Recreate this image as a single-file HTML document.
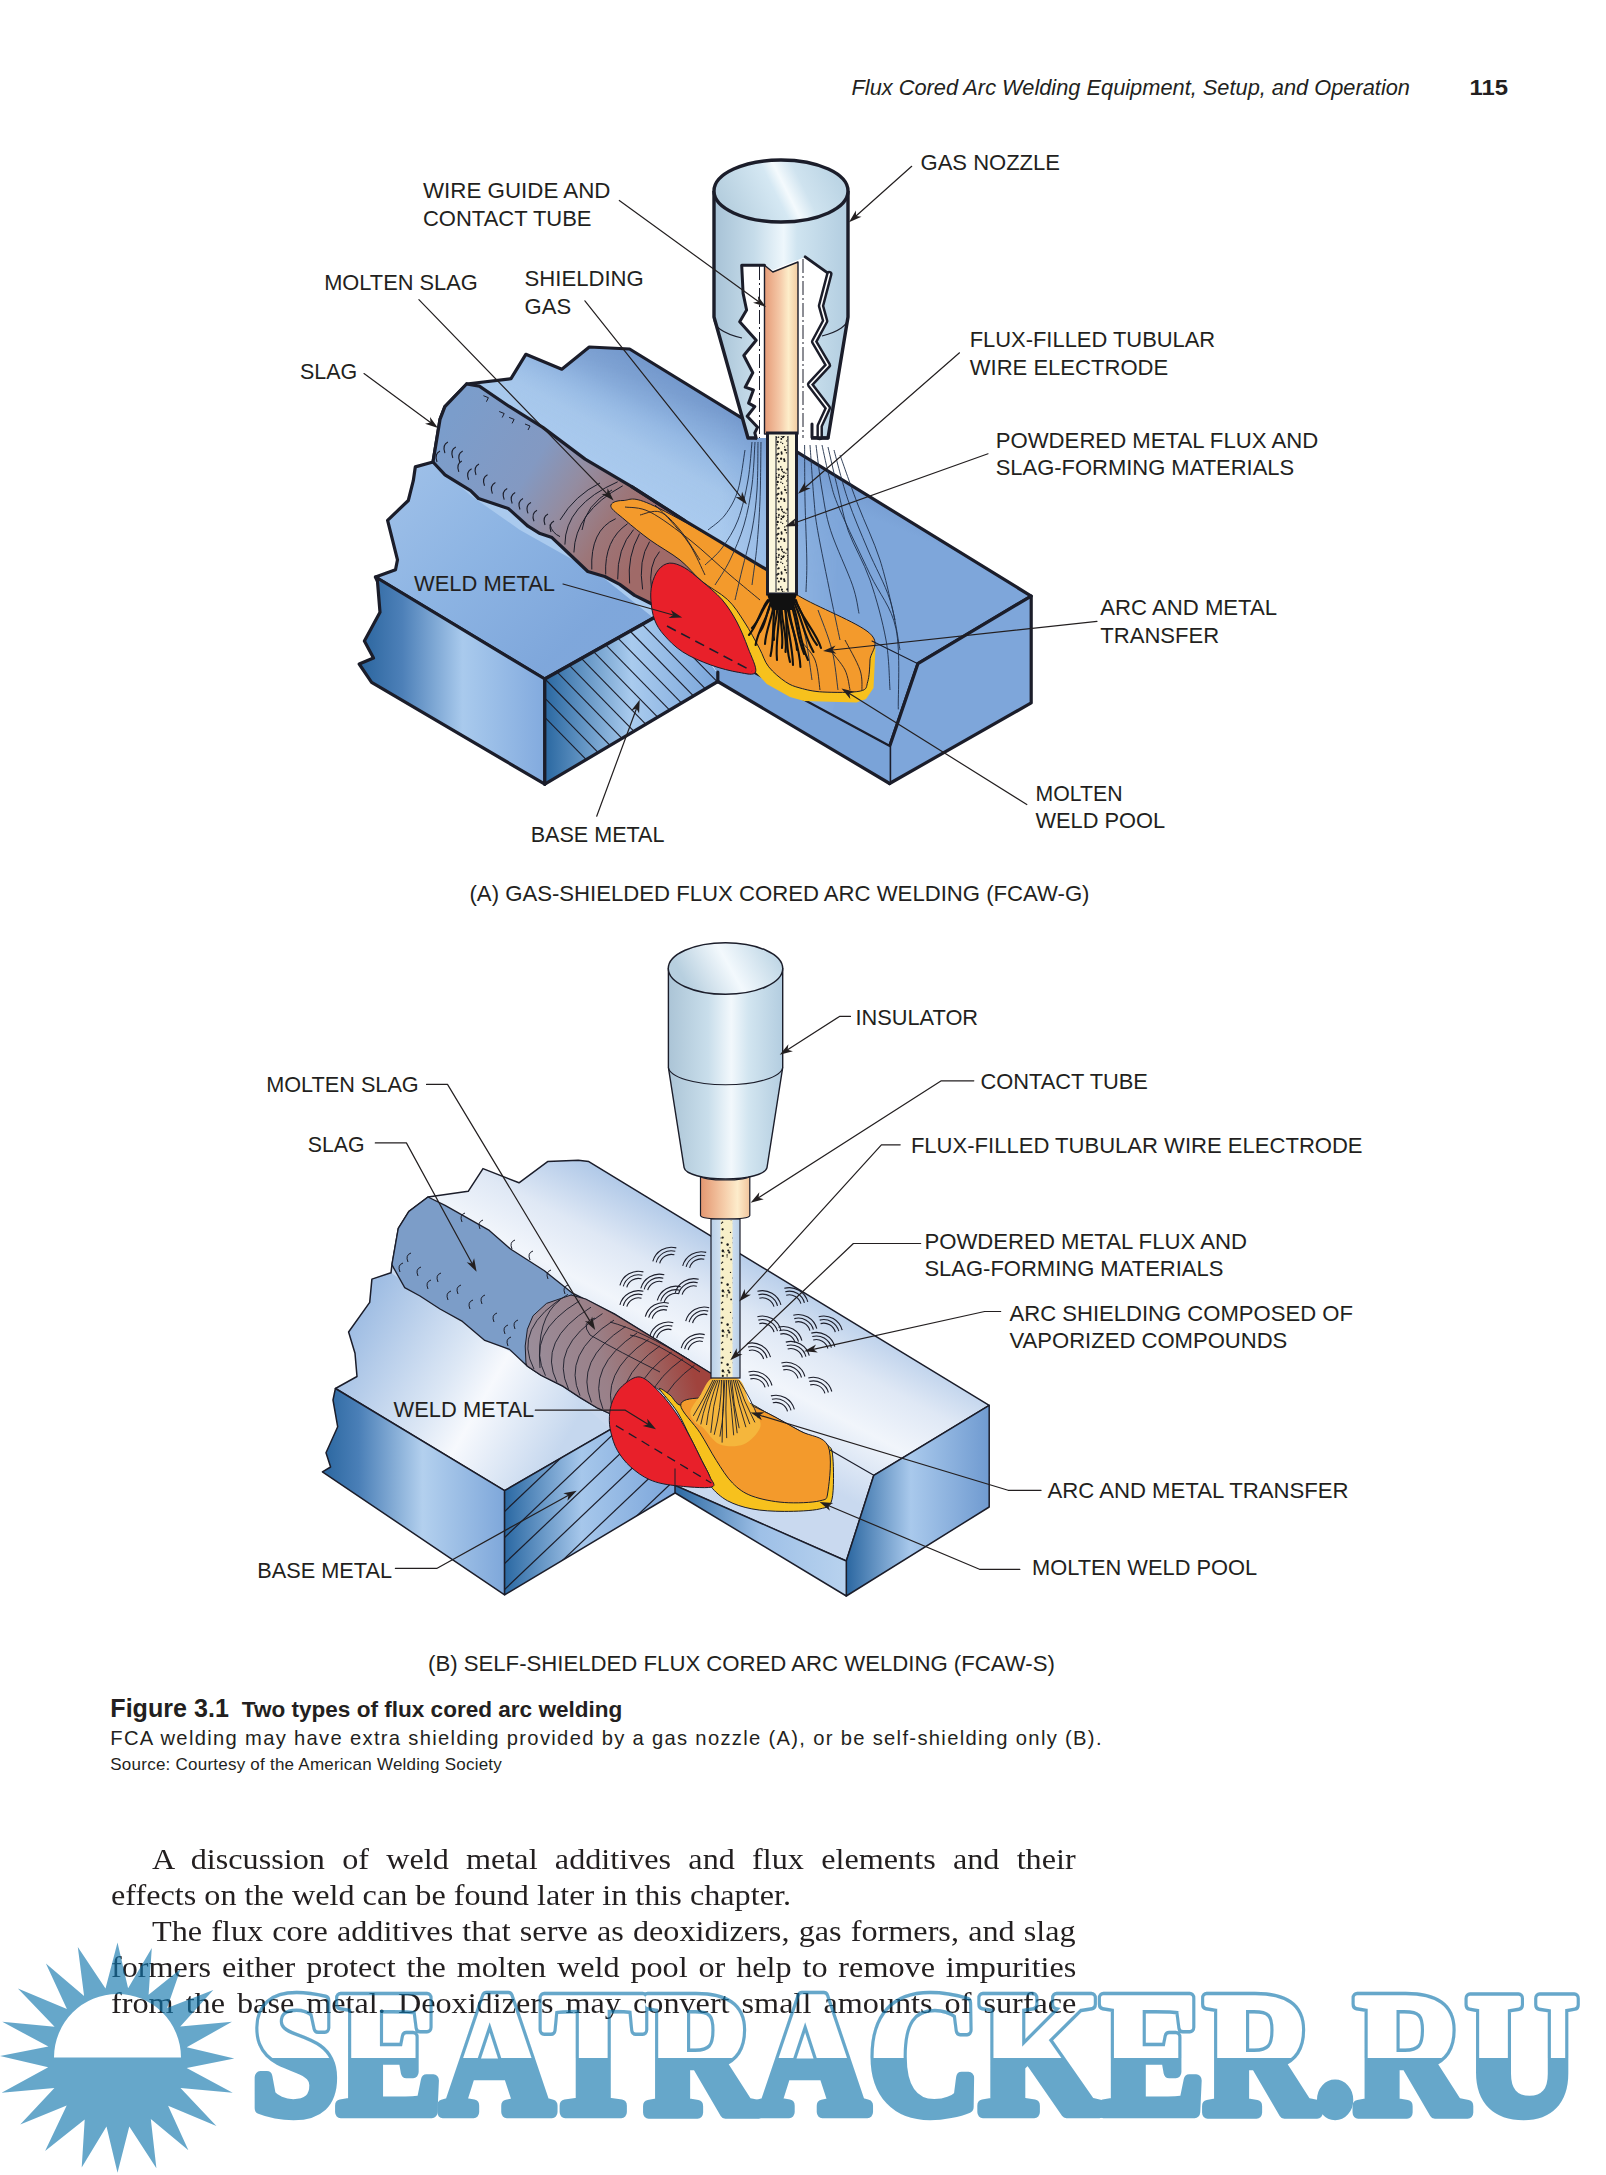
<!DOCTYPE html>
<html><head><meta charset="utf-8"><title>Flux Cored Arc Welding</title>
<style>
html,body{margin:0;padding:0;background:#fff;}
body{width:1606px;height:2175px;position:relative;overflow:hidden;}
.bl{position:absolute;font-family:"Liberation Serif",serif;font-size:28.5px;line-height:28.5px;color:#231f20;white-space:nowrap;text-align:justify;transform:scaleX(1.13);transform-origin:0 0;}
</style></head>
<body>
<svg width="1606" height="2175" style="position:absolute;left:0;top:0">
<g id="figA">
<defs>
<linearGradient id="aTop" gradientUnits="userSpaceOnUse" x1="640" y1="520" x2="690" y2="400">
  <stop offset="0" stop-color="#7ea6da"/><stop offset="0.7" stop-color="#7ea6da"/><stop offset="1" stop-color="#7196cb"/>
</linearGradient>
<linearGradient id="aBand" gradientUnits="userSpaceOnUse" x1="655" y1="500" x2="715" y2="390">
  <stop offset="0" stop-color="#aacaee" stop-opacity="1"/><stop offset="0.3" stop-color="#a9c9ec" stop-opacity="0.92"/><stop offset="0.65" stop-color="#a9c9ec" stop-opacity="0.35"/><stop offset="1" stop-color="#a9c9ec" stop-opacity="0"/>
</linearGradient>
<linearGradient id="aBandM" gradientUnits="userSpaceOnUse" x1="440" y1="0" x2="840" y2="0">
  <stop offset="0" stop-color="#fff"/><stop offset="0.7" stop-color="#fff"/><stop offset="1" stop-color="#fff" stop-opacity="0"/>
</linearGradient>
<mask id="aBandMask" maskUnits="userSpaceOnUse" x="300" y="280" width="650" height="500"><rect x="300" y="280" width="650" height="500" fill="url(#aBandM)"/></mask>
<linearGradient id="aTopL" gradientUnits="userSpaceOnUse" x1="380" y1="470" x2="560" y2="650">
  <stop offset="0" stop-color="#9fc0e8"/><stop offset="0.5" stop-color="#8ab2e2"/><stop offset="1" stop-color="#7aa3d9"/>
</linearGradient>
<linearGradient id="aFront" gradientUnits="userSpaceOnUse" x1="362" y1="0" x2="545" y2="0">
  <stop offset="0" stop-color="#2c669f"/><stop offset="0.22" stop-color="#4d80b8"/>
  <stop offset="0.55" stop-color="#a9caed"/><stop offset="1" stop-color="#82aade"/>
</linearGradient>
<linearGradient id="aHatch" gradientUnits="userSpaceOnUse" x1="545" y1="0" x2="718" y2="0">
  <stop offset="0" stop-color="#2a68a1"/><stop offset="0.5" stop-color="#a9cbee"/><stop offset="1" stop-color="#7aa5da"/>
</linearGradient>
<linearGradient id="aSlag" gradientUnits="userSpaceOnUse" x1="450" y1="420" x2="650" y2="545">
  <stop offset="0" stop-color="#7b9dcb"/><stop offset="0.4" stop-color="#8399c2"/><stop offset="0.6" stop-color="#948ca0"/>
  <stop offset="0.8" stop-color="#9c7679"/><stop offset="1" stop-color="#a06a68"/>
</linearGradient>
<linearGradient id="aNoz" gradientUnits="userSpaceOnUse" x1="714" y1="0" x2="848" y2="0">
  <stop offset="0" stop-color="#a7c2d6"/><stop offset="0.3" stop-color="#c6dcea"/>
  <stop offset="0.52" stop-color="#eef7fc"/><stop offset="0.62" stop-color="#cfe4f0"/><stop offset="1" stop-color="#b2cde0"/>
</linearGradient>
<linearGradient id="aNozTop" gradientUnits="userSpaceOnUse" x1="730" y1="215" x2="830" y2="165">
  <stop offset="0" stop-color="#b6cfdf"/><stop offset="0.45" stop-color="#d5e8f3"/>
  <stop offset="0.55" stop-color="#f4fafd"/><stop offset="0.7" stop-color="#cfe3ef"/><stop offset="1" stop-color="#bcd5e5"/>
</linearGradient>
<linearGradient id="aTube" gradientUnits="userSpaceOnUse" x1="764" y1="0" x2="798" y2="0">
  <stop offset="0" stop-color="#e59a76"/><stop offset="0.45" stop-color="#f4c7a6"/>
  <stop offset="0.72" stop-color="#fdedc9"/><stop offset="1" stop-color="#f2cba0"/>
</linearGradient>
<pattern id="dotsA" patternUnits="userSpaceOnUse" width="12" height="40"><rect width="12" height="40" fill="#fbf4d6"/><circle cx="7.3" cy="29.4" r="1.08" fill="#1a1a1a"/><circle cx="10.6" cy="29.4" r="1.15" fill="#1a1a1a"/><circle cx="1.1" cy="18.7" r="1.17" fill="#1a1a1a"/><circle cx="7.5" cy="35.6" r="0.67" fill="#1a1a1a"/><circle cx="5.7" cy="10.1" r="0.93" fill="#1a1a1a"/><circle cx="6.8" cy="1.0" r="0.73" fill="#1a1a1a"/><circle cx="3.7" cy="36.2" r="1.06" fill="#1a1a1a"/><circle cx="2.5" cy="31.6" r="0.68" fill="#1a1a1a"/><circle cx="7.2" cy="5.4" r="0.60" fill="#1a1a1a"/><circle cx="9.9" cy="8.7" r="0.73" fill="#1a1a1a"/><circle cx="11.0" cy="34.5" r="0.77" fill="#1a1a1a"/><circle cx="10.8" cy="21.5" r="1.01" fill="#1a1a1a"/><circle cx="2.9" cy="37.2" r="1.01" fill="#1a1a1a"/><circle cx="10.9" cy="35.4" r="0.78" fill="#1a1a1a"/><circle cx="4.6" cy="7.0" r="0.69" fill="#1a1a1a"/><circle cx="1.5" cy="12.3" r="0.96" fill="#1a1a1a"/><circle cx="0.8" cy="26.9" r="0.80" fill="#1a1a1a"/><circle cx="4.0" cy="32.4" r="0.89" fill="#1a1a1a"/><circle cx="4.1" cy="19.3" r="1.02" fill="#1a1a1a"/><circle cx="1.4" cy="38.5" r="0.61" fill="#1a1a1a"/><circle cx="8.6" cy="33.5" r="0.61" fill="#1a1a1a"/><circle cx="9.0" cy="14.8" r="0.95" fill="#1a1a1a"/><circle cx="0.9" cy="2.3" r="0.71" fill="#1a1a1a"/><circle cx="10.7" cy="8.2" r="1.05" fill="#1a1a1a"/><circle cx="10.5" cy="37.2" r="0.81" fill="#1a1a1a"/><circle cx="4.5" cy="21.0" r="1.07" fill="#1a1a1a"/><circle cx="1.9" cy="29.7" r="1.08" fill="#1a1a1a"/><circle cx="9.7" cy="1.9" r="1.17" fill="#1a1a1a"/><circle cx="1.7" cy="13.8" r="0.97" fill="#1a1a1a"/><circle cx="10.3" cy="13.8" r="1.15" fill="#1a1a1a"/><circle cx="6.5" cy="12.7" r="0.79" fill="#1a1a1a"/><circle cx="2.6" cy="3.5" r="0.69" fill="#1a1a1a"/><circle cx="8.0" cy="39.4" r="0.70" fill="#1a1a1a"/><circle cx="1.3" cy="39.0" r="0.92" fill="#1a1a1a"/><circle cx="5.0" cy="9.8" r="0.96" fill="#1a1a1a"/><circle cx="9.4" cy="18.3" r="0.85" fill="#1a1a1a"/><circle cx="1.4" cy="36.2" r="0.62" fill="#1a1a1a"/><circle cx="5.9" cy="33.2" r="0.68" fill="#1a1a1a"/><circle cx="8.4" cy="37.5" r="0.98" fill="#1a1a1a"/><circle cx="9.0" cy="4.7" r="0.86" fill="#1a1a1a"/></pattern>
</defs>
<polygon points="466.6,384.0 511.0,378.7 525.8,354.3 561.8,369.2 589.3,347.0 629.6,349.0 1031.2,596.1 917.9,663.7 889.6,746.5 700.0,644.0 653.6,618.0 544.8,679.0 375.5,577.0 395.5,569.7 397.5,559.8 387.6,520.3 408.3,500.5 413.3,480.7 415.3,466.9 433.0,462.0 440.0,419.4 444.9,406.6" fill="url(#aTop)" />
<clipPath id="aTopClip"><polygon points="466.6,384.0 511.0,378.7 525.8,354.3 561.8,369.2 589.3,347.0 629.6,349.0 1031.2,596.1 917.9,663.7 889.6,746.5 700.0,644.0 653.6,618.0 544.8,679.0 375.5,577.0 395.5,569.7 397.5,559.8 387.6,520.3 408.3,500.5 413.3,480.7 415.3,466.9 433.0,462.0 440.0,419.4 444.9,406.6"/></clipPath>
<g clip-path="url(#aTopClip)" mask="url(#aBandMask)"><polygon points="340,420 640,300 900,460 820,760 340,760" fill="url(#aBand)"/></g>
<polygon points="433.0,462.0 415.3,466.9 413.3,480.7 408.3,500.5 387.6,520.3 397.5,559.8 395.5,569.7 375.5,577.0 544.8,679.0 653.6,618.0 600.0,575.0 520.0,530.0 470.0,495.0" fill="url(#aTopL)" opacity="0.9"/>
<polygon points="466.6,384.0 511.0,378.7 525.8,354.3 561.8,369.2 589.3,347.0 629.6,349.0 1031.2,596.1 917.9,663.7 889.6,746.5 700.0,644.0 653.6,618.0 544.8,679.0 375.5,577.0 395.5,569.7 397.5,559.8 387.6,520.3 408.3,500.5 413.3,480.7 415.3,466.9 433.0,462.0 440.0,419.4 444.9,406.6" fill="none" stroke="#1b1d2a" stroke-width="3.2" stroke-linejoin="round" />
<polygon points="917.9,663.7 1031.2,596.1 1031.2,702.9 889.6,783.5 889.6,746.5" fill="#7ea6da" stroke="#1b1d2a" stroke-width="3.2" stroke-linejoin="round" />
<polygon points="700.0,644.0 889.6,746.5 889.6,783.5 717.8,681.5 717.8,674.0" fill="#7aa3d8" />
<polyline points="690.0,638.5 889.6,746.5" fill="none" stroke="#1b1d2a" stroke-width="1.3" stroke-linejoin="round" stroke-linecap="round" />
<polyline points="717.8,681.5 889.6,783.5" fill="none" stroke="#1b1d2a" stroke-width="3.2" stroke-linejoin="round" stroke-linecap="round" />
<polygon points="375.5,577.0 544.8,679.0 544.8,784.2 371.6,682.3 359.2,664.0 373.5,658.0 364.4,641.0 380.0,612.3 377.5,581.6" fill="url(#aFront)" stroke="#1b1d2a" stroke-width="3.2" stroke-linejoin="round" />
<clipPath id="aHatchClip"><polygon points="544.8,679.0 653.6,618.0 700.0,648.0 717.8,674.0 717.8,681.5 544.8,784.2"/></clipPath>
<polygon points="544.8,679.0 653.6,618.0 700.0,648.0 717.8,674.0 717.8,681.5 544.8,784.2" fill="url(#aHatch)" />
<g clip-path="url(#aHatchClip)"><line x1="520.6" y1="692.6" x2="660.6" y2="835.6" stroke="#1b1d2a" stroke-width="1.1"/><line x1="532.8" y1="685.8" x2="672.8" y2="828.8" stroke="#1b1d2a" stroke-width="1.1"/><line x1="545.0" y1="679.0" x2="685.0" y2="822.0" stroke="#1b1d2a" stroke-width="1.1"/><line x1="557.2" y1="672.2" x2="697.2" y2="815.2" stroke="#1b1d2a" stroke-width="1.1"/><line x1="569.4" y1="665.4" x2="709.4" y2="808.4" stroke="#1b1d2a" stroke-width="1.1"/><line x1="581.6" y1="658.7" x2="721.6" y2="801.7" stroke="#1b1d2a" stroke-width="1.1"/><line x1="593.8" y1="651.9" x2="733.8" y2="794.9" stroke="#1b1d2a" stroke-width="1.1"/><line x1="606.0" y1="645.1" x2="746.0" y2="788.1" stroke="#1b1d2a" stroke-width="1.1"/><line x1="618.2" y1="638.3" x2="758.2" y2="781.3" stroke="#1b1d2a" stroke-width="1.1"/><line x1="630.4" y1="631.5" x2="770.4" y2="774.5" stroke="#1b1d2a" stroke-width="1.1"/><line x1="642.6" y1="624.7" x2="782.6" y2="767.7" stroke="#1b1d2a" stroke-width="1.1"/><line x1="654.8" y1="618.0" x2="794.8" y2="761.0" stroke="#1b1d2a" stroke-width="1.1"/><line x1="667.0" y1="611.2" x2="807.0" y2="754.2" stroke="#1b1d2a" stroke-width="1.1"/><line x1="679.2" y1="604.4" x2="819.2" y2="747.4" stroke="#1b1d2a" stroke-width="1.1"/><line x1="691.4" y1="597.6" x2="831.4" y2="740.6" stroke="#1b1d2a" stroke-width="1.1"/><line x1="703.6" y1="590.8" x2="843.6" y2="733.8" stroke="#1b1d2a" stroke-width="1.1"/><line x1="715.8" y1="584.0" x2="855.8" y2="727.0" stroke="#1b1d2a" stroke-width="1.1"/><line x1="728.0" y1="577.3" x2="868.0" y2="720.3" stroke="#1b1d2a" stroke-width="1.1"/><line x1="740.2" y1="570.5" x2="880.2" y2="713.5" stroke="#1b1d2a" stroke-width="1.1"/><line x1="752.4" y1="563.7" x2="892.4" y2="706.7" stroke="#1b1d2a" stroke-width="1.1"/><line x1="764.6" y1="556.9" x2="904.6" y2="699.9" stroke="#1b1d2a" stroke-width="1.1"/><line x1="776.8" y1="550.1" x2="916.8" y2="693.1" stroke="#1b1d2a" stroke-width="1.1"/><line x1="789.0" y1="543.3" x2="929.0" y2="686.3" stroke="#1b1d2a" stroke-width="1.1"/><line x1="801.2" y1="536.6" x2="941.2" y2="679.6" stroke="#1b1d2a" stroke-width="1.1"/></g>
<polyline points="544.8,784.2 544.8,679.0 653.6,618.0" fill="none" stroke="#1b1d2a" stroke-width="3.2" stroke-linejoin="round" stroke-linecap="round" />
<polyline points="544.8,784.2 717.8,681.5" fill="none" stroke="#1b1d2a" stroke-width="3.2" stroke-linejoin="round" stroke-linecap="round" />
<polyline points="717.8,672.0 717.8,682.0" fill="none" stroke="#1b1d2a" stroke-width="3.2" stroke-linejoin="round" stroke-linecap="round" />
<polygon points="466.6,384.0 479.3,386.1 508.9,406.2 542.8,427.4 585.1,459.1 631.7,486.6 684.6,520.5 766.8,569.7 760.0,600.0 700.0,610.0 652.0,604.0 634.6,595.4 619.7,584.4 604.7,576.5 587.8,571.5 569.9,554.5 552.0,537.6 540.0,533.6 528.0,526.2 508.2,508.4 478.5,498.5 470.6,490.6 445.0,474.8 433.0,462.0 440.0,419.4 444.9,406.6" fill="url(#aSlag)" />
<path d="M447.9,442.1 q-6,3 -3,11" fill="none" stroke="#1b1d2a" stroke-width="1.1"/>
<path d="M455.8,447.0 q-6,3 -3,11" fill="none" stroke="#1b1d2a" stroke-width="1.1"/>
<path d="M462.7,451.0 q-6,3 -3,11" fill="none" stroke="#1b1d2a" stroke-width="1.1"/>
<path d="M440.0,451.0 q-6,3 -3,11" fill="none" stroke="#1b1d2a" stroke-width="1.1"/>
<path d="M461.8,460.9 q-6,3 -3,11" fill="none" stroke="#1b1d2a" stroke-width="1.1"/>
<path d="M471.6,468.8 q-6,3 -3,11" fill="none" stroke="#1b1d2a" stroke-width="1.1"/>
<path d="M487.5,474.7 q-6,3 -3,11" fill="none" stroke="#1b1d2a" stroke-width="1.1"/>
<path d="M495.4,482.6 q-6,3 -3,11" fill="none" stroke="#1b1d2a" stroke-width="1.1"/>
<path d="M507.2,488.6 q-6,3 -3,11" fill="none" stroke="#1b1d2a" stroke-width="1.1"/>
<path d="M515.2,492.5 q-6,3 -3,11" fill="none" stroke="#1b1d2a" stroke-width="1.1"/>
<path d="M523.0,498.5 q-6,3 -3,11" fill="none" stroke="#1b1d2a" stroke-width="1.1"/>
<path d="M531.0,502.4 q-6,3 -3,11" fill="none" stroke="#1b1d2a" stroke-width="1.1"/>
<path d="M537.0,510.3 q-6,3 -3,11" fill="none" stroke="#1b1d2a" stroke-width="1.1"/>
<path d="M479.0,464.0 q-6,3 -3,11" fill="none" stroke="#1b1d2a" stroke-width="1.1"/>
<path d="M548.0,514.0 q-6,3 -3,11" fill="none" stroke="#1b1d2a" stroke-width="1.1"/>
<path d="M554.0,521.0 q-6,3 -3,11" fill="none" stroke="#1b1d2a" stroke-width="1.1"/>
<path d="M483.4,395.7 l5,2 l-2,4" fill="none" stroke="#1b1d2a" stroke-width="1"/>
<path d="M499.2,411.5 l5,2 l-2,4" fill="none" stroke="#1b1d2a" stroke-width="1"/>
<path d="M509.1,417.4 l5,2 l-2,4" fill="none" stroke="#1b1d2a" stroke-width="1"/>
<path d="M525.0,424.0 l5,2 l-2,4" fill="none" stroke="#1b1d2a" stroke-width="1"/>
<path d="M617.7,481.8 Q565,505 564.9,544.6" fill="none" stroke="#1b1d2a" stroke-width="1"/>
<path d="M622.7,485.8 Q575,512 573.9,552.5" fill="none" stroke="#1b1d2a" stroke-width="1"/>
<path d="M615.7,518.7 Q590,530 591.8,569.5" fill="none" stroke="#1b1d2a" stroke-width="1"/>
<path d="M627.6,523.7 Q604,540 605.7,574.5" fill="none" stroke="#1b1d2a" stroke-width="1"/>
<path d="M633.6,529.6 Q617,548 617.7,579.4" fill="none" stroke="#1b1d2a" stroke-width="1"/>
<path d="M639.6,533.6 Q627,556 629.6,583.4" fill="none" stroke="#1b1d2a" stroke-width="1"/>
<path d="M649.6,541.6 Q638,560 642.6,589.4" fill="none" stroke="#1b1d2a" stroke-width="1"/>
<path d="M659.5,551.6 Q648,565 651.5,590" fill="none" stroke="#1b1d2a" stroke-width="1"/>
<path d="M612,490 Q585,505 582,530" fill="none" stroke="#1b1d2a" stroke-width="1"/>
<path d="M550,524.7 Q552,533 560,536.6" fill="none" stroke="#1b1d2a" stroke-width="1"/>
<path d="M600,483 Q575,495 560,520" fill="none" stroke="#1b1d2a" stroke-width="1"/>
<polyline points="466.6,384.0 479.3,386.1 508.9,406.2 542.8,427.4 585.1,459.1 631.7,486.6 684.6,520.5" fill="none" stroke="#1b1d2a" stroke-width="3.2" stroke-linejoin="round" stroke-linecap="round" />
<polyline points="652.0,604.0 634.6,595.4 619.7,584.4 604.7,576.5 587.8,571.5 569.9,554.5 552.0,537.6 540.0,533.6 528.0,526.2 508.2,508.4 478.5,498.5 470.6,490.6 445.0,474.8 433.0,462.0" fill="none" stroke="#1b1d2a" stroke-width="3.2" stroke-linejoin="round" stroke-linecap="round" />
<polyline points="433.0,462.0 440.0,419.4 444.9,406.6 466.6,384.0" fill="none" stroke="#1b1d2a" stroke-width="3.2" stroke-linejoin="round" stroke-linecap="round" />
<polygon points="701.4,580.9 722.0,599.6 736.9,622.0 748.1,648.1 755.6,672.0 766.8,684.0 790.0,697.0 804.2,701.0 856.5,702.5 866.0,699.0 873.5,688.0 875.5,648.0 871.4,636.0 869.6,633.2 798.6,595.8 766.8,569.7 730.0,560.0" fill="#f7c11d" />
<path d="M610.8,506.2 C610.5,502.9 615.7,500.5 623.0,500.5 C630.3,500.5 630.7,494.7 654.7,506.2 C678.7,517.7 742.8,554.8 766.8,569.7 C790.8,584.6 781.5,585.2 798.6,595.8 C815.7,606.4 857.7,622.5 869.6,633.2 C881.5,643.9 870.3,651.9 870.0,660.0 C869.7,668.1 869.3,676.6 867.7,681.8 C866.1,687.0 867.7,689.4 860.2,691.1 C852.7,692.8 832.9,692.5 822.9,692.0 C812.9,691.5 806.2,689.7 800.0,688.0 C793.8,686.3 790.7,685.3 785.5,681.8 C780.3,678.3 773.1,672.4 768.7,666.8 C764.3,661.2 763.3,655.6 759.3,648.1 C755.2,640.6 749.7,630.1 744.4,622.0 C739.1,613.9 734.8,606.5 727.6,599.6 C720.4,592.8 709.3,587.5 701.4,580.9 C693.5,574.3 688.6,566.8 680.0,560.0 C671.4,553.2 659.2,546.7 650.0,540.0 C640.8,533.3 631.5,525.6 625.0,520.0 C618.5,514.4 611.1,509.4 610.8,506.2 Z" fill="#f39a2c" stroke="#1b1d2a" stroke-width="1"/>
<polyline points="631.7,486.6 684.6,520.5 766.8,569.7" fill="none" stroke="#1b1d2a" stroke-width="3.2" stroke-linejoin="round" stroke-linecap="round" />
<path d="M625.0,507.0 C629.2,507.8 639.2,506.5 650.0,512.0 C660.8,517.5 676.7,529.5 690.0,540.0 C703.3,550.5 718.3,565.0 730.0,575.0 C741.7,585.0 755.0,595.8 760.0,600.0" fill="none" stroke="#1b1d2a" stroke-width="0.9"/>
<path d="M640.0,515.0 C643.3,514.5 653.3,509.5 660.0,512.0 C666.7,514.5 673.3,522.0 680.0,530.0 C686.7,538.0 696.7,555.0 700.0,560.0" fill="none" stroke="#1b1d2a" stroke-width="0.9"/>
<path d="M655.0,505.0 C657.5,507.5 664.2,513.3 670.0,520.0 C675.8,526.7 684.2,535.8 690.0,545.0 C695.8,554.2 702.5,570.0 705.0,575.0" fill="none" stroke="#1b1d2a" stroke-width="0.9"/>
<path d="M800.0,640.0 C802.5,643.3 811.7,651.7 815.0,660.0 C818.3,668.3 819.2,685.0 820.0,690.0" fill="none" stroke="#1b1d2a" stroke-width="0.9"/>
<path d="M830.0,650.0 C832.5,653.3 841.7,663.3 845.0,670.0 C848.3,676.7 849.2,686.7 850.0,690.0" fill="none" stroke="#1b1d2a" stroke-width="0.9"/>
<path d="M845.0,640.0 C847.5,645.0 857.2,661.7 860.0,670.0 C862.8,678.3 861.7,686.7 862.0,690.0" fill="none" stroke="#1b1d2a" stroke-width="0.9"/>
<polyline points="872.0,641.0 917.9,663.7" fill="none" stroke="#1b1d2a" stroke-width="1.1" stroke-linejoin="round" stroke-linecap="round" />
<path d="M669.7,563.1 C674.1,562.8 679.3,564.8 684.6,567.8 C689.9,570.8 695.2,575.6 701.4,580.9 C707.6,586.2 716.1,592.8 722.0,599.6 C727.9,606.5 732.5,613.9 736.9,622.0 C741.2,630.1 745.0,639.8 748.1,648.1 C751.2,656.4 757.2,668.0 755.6,672.0 C754.0,676.0 746.3,673.6 738.8,672.4 C731.3,671.2 720.1,668.4 710.8,665.0 C701.4,661.6 690.5,656.9 682.7,651.9 C674.9,646.9 668.8,640.4 664.1,635.1 C659.4,629.8 656.9,625.7 654.7,620.1 C652.5,614.5 651.5,607.3 651.0,601.4 C650.5,595.5 650.6,589.9 651.9,584.6 C653.1,579.3 655.5,573.3 658.5,569.7 C661.5,566.1 665.4,563.4 669.7,563.1 Z" fill="#e8202a" stroke="#1b1d2a" stroke-width="1"/>
<line x1="667" y1="626" x2="752" y2="671" stroke="#1b1d2a" stroke-width="1.6" stroke-dasharray="10,6"/>
<path d="M752.0,442.0 C751.3,448.3 750.3,467.0 748.0,480.0 C745.7,493.0 742.3,508.7 738.0,520.0 C733.7,531.3 727.5,540.5 722.0,548.0 C716.5,555.5 707.8,562.2 705.0,565.0" fill="none" stroke="#1e2f4a" stroke-width="0.9"/>
<path d="M755.0,442.0 C754.5,449.2 753.8,471.2 752.0,485.0 C750.2,498.8 747.7,512.5 744.0,525.0 C740.3,537.5 734.8,550.0 730.0,560.0 C725.2,570.0 717.5,580.8 715.0,585.0" fill="none" stroke="#1e2f4a" stroke-width="0.9"/>
<path d="M758.0,442.0 C757.8,450.0 758.0,475.3 757.0,490.0 C756.0,504.7 754.5,516.7 752.0,530.0 C749.5,543.3 744.8,558.3 742.0,570.0 C739.2,581.7 736.2,595.0 735.0,600.0" fill="none" stroke="#1e2f4a" stroke-width="0.9"/>
<path d="M761.0,442.0 C760.8,451.7 760.7,482.8 760.0,500.0 C759.3,517.2 758.3,530.8 757.0,545.0 C755.7,559.2 752.8,578.3 752.0,585.0" fill="none" stroke="#1e2f4a" stroke-width="0.9"/>
<path d="M745.0,450.0 C743.8,456.7 741.3,479.2 738.0,490.0 C734.7,500.8 730.0,508.3 725.0,515.0 C720.0,521.7 710.8,527.5 708.0,530.0" fill="none" stroke="#1e2f4a" stroke-width="0.9"/>
<path d="M804.6,445.0 C804.7,454.2 804.6,480.8 805.0,500.0 C805.4,519.2 806.6,544.7 806.8,560.0 C807.0,575.3 806.1,586.7 806.0,592.0" fill="none" stroke="#1e2f4a" stroke-width="0.9"/>
<path d="M810.0,445.0 C810.7,454.2 812.7,485.7 814.0,500.0 C815.3,514.3 814.9,514.7 817.7,530.7 C820.5,546.7 827.0,577.8 830.7,596.0 C834.4,614.2 838.5,632.7 840.0,640.0" fill="none" stroke="#1e2f4a" stroke-width="0.9"/>
<path d="M816.0,445.0 C817.0,452.5 819.5,475.7 822.0,490.0 C824.5,504.3 825.6,514.8 830.7,530.7 C835.8,546.6 847.8,571.4 852.5,585.2 C857.2,599.0 857.9,608.8 859.0,613.5" fill="none" stroke="#1e2f4a" stroke-width="0.9"/>
<path d="M822.0,445.0 C823.3,450.8 827.1,469.3 830.0,480.0 C832.9,490.7 832.8,493.3 839.5,509.0 C846.2,524.7 860.6,554.3 870.0,574.3 C879.4,594.3 891.3,606.3 896.0,628.8 C900.7,651.3 897.9,696.0 898.3,709.4" fill="none" stroke="#1e2f4a" stroke-width="0.9"/>
<path d="M828.0,447.0 C829.7,454.2 834.6,476.1 838.0,490.0 C841.4,503.9 842.9,515.7 848.2,530.7 C853.5,545.7 863.7,561.8 870.0,580.0 C876.3,598.2 882.7,621.7 886.0,640.0 C889.3,658.3 889.3,681.7 890.0,690.0" fill="none" stroke="#1e2f4a" stroke-width="0.9"/>
<path d="M834.0,450.0 C836.3,458.3 842.3,483.3 848.0,500.0 C853.7,516.7 861.0,533.3 868.0,550.0 C875.0,566.7 884.7,583.3 890.0,600.0 C895.3,616.7 898.3,641.7 900.0,650.0" fill="none" stroke="#1e2f4a" stroke-width="0.9"/>
<path d="M840.0,455.0 C843.0,463.3 851.3,487.5 858.0,505.0 C864.7,522.5 873.8,540.8 880.0,560.0 C886.2,579.2 892.5,610.0 895.0,620.0" fill="none" stroke="#1e2f4a" stroke-width="0.9"/>
<path d="M798.0,610.0 C799.3,615.0 803.7,628.3 806.0,640.0 C808.3,651.7 811.0,673.3 812.0,680.0" fill="none" stroke="#1e2f4a" stroke-width="0.9"/>
<path d="M818.0,610.0 C820.3,616.7 828.7,636.7 832.0,650.0 C835.3,663.3 837.0,683.3 838.0,690.0" fill="none" stroke="#1e2f4a" stroke-width="0.9"/>
<path d="M714,191 L714,317 L748,438 L828,438 L848,317 L848,191 Z" fill="url(#aNoz)"/>
<polygon points="741.7,265.2 743.1,293.4 746.6,310.0 739.7,321.7 756.2,340.3 743.8,355.5 752.8,372.8 745.2,387.2 753.4,390.0 748.6,403.1 754.8,406.6 747.2,416.2 757.6,427.2 754.8,432.8 756.2,438.0 811.4,438.0 819.7,437.0 819.7,425.9 827.9,408.0 810.0,384.5 827.9,365.2 814.1,341.7 825.2,321.0 821.0,305.9 829.3,274.1 805.2,256.9 772.8,270.0 764.5,265.2" fill="#ffffff" />
<path d="M714.5,318 A67,22 0 0 0 742,338" fill="none" stroke="#1b1d2a" stroke-width="1.1"/>
<path d="M822,336 A67,22 0 0 0 847.5,318" fill="none" stroke="#1b1d2a" stroke-width="1.1"/>
<path d="M714,191 L714,317 L748,438 L757,438 M811,438 L828,438 L848,317 L848,191" fill="none" stroke="#1b1d2a" stroke-width="3.4" stroke-linejoin="round"/>
<ellipse cx="781" cy="191" rx="67" ry="31" fill="url(#aNozTop)" stroke="#1b1d2a" stroke-width="3.4"/>
<polyline points="764.5,265.2 741.7,265.2 741.7,265.2 743.1,293.4 746.6,310.0 739.7,321.7 756.2,340.3 743.8,355.5 752.8,372.8 745.2,387.2 753.4,390.0 748.6,403.1 754.8,406.6 747.2,416.2 757.6,427.2 754.8,432.8 756.2,438.0" fill="none" stroke="#1b1d2a" stroke-width="3" stroke-linejoin="round" stroke-linecap="round" />
<polyline points="805.2,256.9 829.3,274.1" fill="none" stroke="#1b1d2a" stroke-width="3" stroke-linejoin="round" stroke-linecap="round" />
<polyline points="829.3,274.1 821.0,305.9 825.2,321.0 814.1,341.7 827.9,365.2 810.0,384.5 827.9,408.0 819.7,425.9 819.7,437.0" fill="none" stroke="#1b1d2a" stroke-width="6.5" stroke-linejoin="round" stroke-linecap="round" />
<polyline points="829.3,274.1 821.0,305.9 825.2,321.0 814.1,341.7 827.9,365.2 810.0,384.5 827.9,408.0 819.7,425.9 819.7,437.0" fill="none" stroke="#ffffff" stroke-width="1.6" stroke-linejoin="round" stroke-linecap="round" />
<polyline points="812.0,424.0 812.0,437.5 828.0,438.0" fill="none" stroke="#1b1d2a" stroke-width="3" stroke-linejoin="round" stroke-linecap="round" />
<line x1="759.5" y1="266" x2="759.5" y2="438" stroke="#1b1d2a" stroke-width="1" stroke-dasharray="14,3,2,3"/>
<line x1="803" y1="259" x2="803" y2="438" stroke="#1b1d2a" stroke-width="1" stroke-dasharray="14,3,2,3"/>
<polygon points="764.5,265.2 772.8,272.0 798.0,262.0 798.0,434.0 764.5,434.0" fill="url(#aTube)" stroke="#1b1d2a" stroke-width="1.4" stroke-linejoin="round" />
<rect x="767.5" y="433" width="29" height="161" fill="#fcf7dc" stroke="#1b1d2a" stroke-width="3"/>
<rect x="776" y="436" width="12" height="156" fill="url(#dotsA)"/>
<line x1="776" y1="436" x2="776" y2="592" stroke="#1b1d2a" stroke-width="1"/>
<line x1="788" y1="436" x2="788" y2="592" stroke="#1b1d2a" stroke-width="1"/>
<path d="M768.0,600 C759.1,611.5 758.8,623.1 749,635" fill="none" stroke="#111" stroke-width="2.1" stroke-linecap="round"/>
<path d="M769.5,600 C761.5,609.2 760.9,618.5 752,628" fill="none" stroke="#111" stroke-width="2.1" stroke-linecap="round"/>
<path d="M771.1,600 C769.7,614.9 757.8,629.7 755.6,645" fill="none" stroke="#111" stroke-width="2.1" stroke-linecap="round"/>
<path d="M772.6,600 C765.6,610.6 767.6,621.1 760,632" fill="none" stroke="#111" stroke-width="2.1" stroke-linecap="round"/>
<path d="M774.2,600 C774.0,614.5 765.7,629.0 765,644" fill="none" stroke="#111" stroke-width="2.1" stroke-linecap="round"/>
<path d="M775.8,600 C771.8,618.5 774.7,637.0 770.5,656" fill="none" stroke="#111" stroke-width="2.1" stroke-linecap="round"/>
<path d="M777.3,600 C779.4,613.2 772.1,626.4 774,640" fill="none" stroke="#111" stroke-width="2.1" stroke-linecap="round"/>
<path d="M778.9,600 C781.1,619.8 774.9,639.6 777,660" fill="none" stroke="#111" stroke-width="2.1" stroke-linecap="round"/>
<path d="M780.4,600 C778.4,615.8 783.9,631.7 782,648" fill="none" stroke="#111" stroke-width="2.1" stroke-linecap="round"/>
<path d="M782.0,600 C779.3,617.2 788.0,634.3 785.5,652" fill="none" stroke="#111" stroke-width="2.1" stroke-linecap="round"/>
<path d="M783.5,600 C788.9,620.5 784.2,640.9 790,662" fill="none" stroke="#111" stroke-width="2.1" stroke-linecap="round"/>
<path d="M785.0,600 C785.1,621.5 792.5,642.9 793,665" fill="none" stroke="#111" stroke-width="2.1" stroke-linecap="round"/>
<path d="M786.6,600 C787.1,616.5 796.0,633.0 797,650" fill="none" stroke="#111" stroke-width="2.1" stroke-linecap="round"/>
<path d="M788.1,600 C788.2,622.1 799.8,644.2 800.4,667" fill="none" stroke="#111" stroke-width="2.1" stroke-linecap="round"/>
<path d="M789.7,600 C797.0,617.8 796.2,635.6 804.2,654" fill="none" stroke="#111" stroke-width="2.1" stroke-linecap="round"/>
<path d="M791.2,600 C799.7,619.8 798.7,639.6 808,660" fill="none" stroke="#111" stroke-width="2.1" stroke-linecap="round"/>
<path d="M792.8,600 C801.8,617.2 803.5,634.3 813.5,652" fill="none" stroke="#111" stroke-width="2.1" stroke-linecap="round"/>
<path d="M794.4,600 C805.1,614.9 805.1,629.7 817,645" fill="none" stroke="#111" stroke-width="2.1" stroke-linecap="round"/>
<path d="M795.9,600 C799.7,615.8 816.0,631.7 821,648" fill="none" stroke="#111" stroke-width="2.1" stroke-linecap="round"/>
<path d="M767,594 L797,594 L792,610 L772,610 Z" fill="#111"/>
<polyline points="911.7,166.3 856.0,216.0" fill="none" stroke="#231f20" stroke-width="1.2" stroke-linejoin="round" stroke-linecap="round" /><polygon points="849.0,222.2 855.9,210.4 856.0,216.0 861.5,216.7" fill="#231f20" />
<polyline points="619.3,200.5 758.4,301.5" fill="none" stroke="#231f20" stroke-width="1.2" stroke-linejoin="round" stroke-linecap="round" /><polygon points="766.0,307.0 753.0,302.8 758.4,301.5 757.9,296.0" fill="#231f20" />
<polyline points="418.9,299.6 607.1,493.8" fill="none" stroke="#231f20" stroke-width="1.2" stroke-linejoin="round" stroke-linecap="round" /><polygon points="613.6,500.5 601.5,494.1 607.1,493.8 607.6,488.2" fill="#231f20" />
<polyline points="584.9,300.8 741.1,497.3" fill="none" stroke="#231f20" stroke-width="1.2" stroke-linejoin="round" stroke-linecap="round" /><polygon points="746.9,504.6 735.5,497.0 741.1,497.3 742.1,491.8" fill="#231f20" />
<polyline points="364.0,373.6 430.5,422.5" fill="none" stroke="#231f20" stroke-width="1.2" stroke-linejoin="round" stroke-linecap="round" /><polygon points="438.0,428.0 425.0,423.7 430.5,422.5 430.0,416.9" fill="#231f20" />
<polyline points="959.5,352.8 805.1,487.5" fill="none" stroke="#231f20" stroke-width="1.2" stroke-linejoin="round" stroke-linecap="round" /><polygon points="798.0,493.7 805.0,482.0 805.1,487.5 810.6,488.3" fill="#231f20" />
<polyline points="988.0,453.8 793.8,523.2" fill="none" stroke="#231f20" stroke-width="1.2" stroke-linejoin="round" stroke-linecap="round" /><polygon points="785.0,526.4 795.8,518.1 793.8,523.2 798.7,526.0" fill="#231f20" />
<polyline points="563.0,584.0 673.2,615.0" fill="none" stroke="#231f20" stroke-width="1.2" stroke-linejoin="round" stroke-linecap="round" /><polygon points="682.2,617.5 668.5,618.0 673.2,615.0 670.8,609.9" fill="#231f20" />
<polyline points="1097.0,621.3 832.3,650.0" fill="none" stroke="#231f20" stroke-width="1.2" stroke-linejoin="round" stroke-linecap="round" /><polygon points="823.0,651.0 835.5,645.4 832.3,650.0 836.4,653.8" fill="#231f20" />
<polyline points="1026.8,804.5 849.4,693.5" fill="none" stroke="#231f20" stroke-width="1.2" stroke-linejoin="round" stroke-linecap="round" /><polygon points="841.5,688.5 854.7,691.8 849.4,693.5 850.3,699.0" fill="#231f20" />
<polyline points="596.7,816.2 636.5,708.5" fill="none" stroke="#231f20" stroke-width="1.2" stroke-linejoin="round" stroke-linecap="round" /><polygon points="639.7,699.7 639.1,713.4 636.5,708.5 631.3,710.4" fill="#231f20" />
</g>
<g id="figB">
<defs>
<linearGradient id="bTop" gradientUnits="userSpaceOnUse" x1="700" y1="1420" x2="790" y2="1250">
  <stop offset="0" stop-color="#c9d9ef"/><stop offset="0.35" stop-color="#f1f5fb"/>
  <stop offset="0.6" stop-color="#dfe8f5"/><stop offset="1" stop-color="#a3c0e4"/>
</linearGradient>
<linearGradient id="bTopL" gradientUnits="userSpaceOnUse" x1="350" y1="1330" x2="560" y2="1450">
  <stop offset="0" stop-color="#9fbde3"/><stop offset="0.45" stop-color="#dce7f5"/>
  <stop offset="0.62" stop-color="#f7f9fd"/><stop offset="1" stop-color="#c5d7ee"/>
</linearGradient>
<linearGradient id="bFront" gradientUnits="userSpaceOnUse" x1="322" y1="0" x2="505" y2="0">
  <stop offset="0" stop-color="#2a669f"/><stop offset="0.2" stop-color="#4a7fb7"/>
  <stop offset="0.55" stop-color="#b3d0ee"/><stop offset="1" stop-color="#7ea7da"/>
</linearGradient>
<linearGradient id="bHatch" gradientUnits="userSpaceOnUse" x1="505" y1="0" x2="675" y2="0">
  <stop offset="0" stop-color="#2b69a3"/><stop offset="0.45" stop-color="#a6c7eb"/><stop offset="1" stop-color="#7ba5da"/>
</linearGradient>
<linearGradient id="bRFront" gradientUnits="userSpaceOnUse" x1="675" y1="0" x2="846" y2="0">
  <stop offset="0" stop-color="#2d6aa3"/><stop offset="0.5" stop-color="#9ec0e7"/><stop offset="1" stop-color="#b8d2ee"/>
</linearGradient>
<linearGradient id="bRFace" gradientUnits="userSpaceOnUse" x1="846" y1="0" x2="990" y2="0">
  <stop offset="0" stop-color="#2a66a0"/><stop offset="0.45" stop-color="#a9c9ec"/><stop offset="1" stop-color="#6f9ad0"/>
</linearGradient>
<linearGradient id="bSlag" gradientUnits="userSpaceOnUse" x1="530" y1="1360" x2="680" y2="1320">
  <stop offset="0" stop-color="#9a8d9a"/><stop offset="0.45" stop-color="#9a8088"/><stop offset="0.7" stop-color="#9d6b6a"/>
  <stop offset="1" stop-color="#a0433d"/>
</linearGradient>
<linearGradient id="bIns" gradientUnits="userSpaceOnUse" x1="668" y1="0" x2="783" y2="0">
  <stop offset="0" stop-color="#abc4d6"/><stop offset="0.35" stop-color="#c9deeb"/>
  <stop offset="0.55" stop-color="#f2f8fc"/><stop offset="0.7" stop-color="#d2e5f0"/><stop offset="1" stop-color="#b3cde0"/>
</linearGradient>
<linearGradient id="bInsTop" gradientUnits="userSpaceOnUse" x1="690" y1="990" x2="770" y2="945">
  <stop offset="0" stop-color="#b7cfdf"/><stop offset="0.5" stop-color="#f3f9fd"/><stop offset="1" stop-color="#c0d7e6"/>
</linearGradient>
<linearGradient id="bTube" gradientUnits="userSpaceOnUse" x1="700" y1="0" x2="750" y2="0">
  <stop offset="0" stop-color="#e3956f"/><stop offset="0.5" stop-color="#f6cfac"/>
  <stop offset="0.75" stop-color="#fdeccb"/><stop offset="1" stop-color="#f0c49c"/>
</linearGradient>
<linearGradient id="bEl" gradientUnits="userSpaceOnUse" x1="711" y1="0" x2="740" y2="0">
  <stop offset="0" stop-color="#b9cfe7"/><stop offset="0.5" stop-color="#dde9f5"/><stop offset="1" stop-color="#b9cfe7"/>
</linearGradient>
<pattern id="dotsB" patternUnits="userSpaceOnUse" width="12" height="40"><rect width="12" height="40" fill="#f7efc9"/><circle cx="1.6" cy="2.8" r="1.06" fill="#1a1a1a"/><circle cx="2.5" cy="22.3" r="0.81" fill="#1a1a1a"/><circle cx="2.6" cy="29.0" r="0.59" fill="#1a1a1a"/><circle cx="7.6" cy="5.0" r="0.79" fill="#1a1a1a"/><circle cx="2.8" cy="11.0" r="1.18" fill="#1a1a1a"/><circle cx="9.3" cy="12.4" r="1.12" fill="#1a1a1a"/><circle cx="2.8" cy="15.9" r="1.10" fill="#1a1a1a"/><circle cx="7.6" cy="4.4" r="1.19" fill="#1a1a1a"/><circle cx="2.8" cy="10.6" r="1.04" fill="#1a1a1a"/><circle cx="4.1" cy="12.1" r="0.55" fill="#1a1a1a"/><circle cx="1.5" cy="23.2" r="0.67" fill="#1a1a1a"/><circle cx="7.1" cy="15.0" r="0.82" fill="#1a1a1a"/><circle cx="11.1" cy="19.4" r="0.90" fill="#1a1a1a"/><circle cx="10.0" cy="7.6" r="0.61" fill="#1a1a1a"/><circle cx="10.5" cy="32.4" r="0.67" fill="#1a1a1a"/><circle cx="2.6" cy="29.3" r="1.16" fill="#1a1a1a"/><circle cx="2.7" cy="37.6" r="1.12" fill="#1a1a1a"/><circle cx="7.1" cy="16.9" r="0.57" fill="#1a1a1a"/><circle cx="0.9" cy="38.0" r="0.67" fill="#1a1a1a"/><circle cx="8.3" cy="10.5" r="1.08" fill="#1a1a1a"/></pattern>
</defs>
<polygon points="428.0,1197.0 468.2,1191.3 483.0,1168.6 519.0,1182.8 547.6,1161.6 578.3,1160.2 588.8,1161.6 989.2,1405.4 873.8,1475.3 846.3,1561.0 676.0,1486.0 611.0,1429.2 504.6,1490.7 335.4,1388.5 357.0,1376.5 355.0,1353.2 348.6,1332.0 369.7,1302.4 371.9,1279.1 391.0,1272.8 392.0,1264.3 398.3,1228.3 408.9,1211.4" fill="url(#bTop)" />
<polygon points="391.0,1272.8 371.9,1279.1 369.7,1302.4 348.6,1332.0 355.0,1353.2 357.0,1376.5 335.4,1388.5 504.6,1490.7 611.0,1429.2 560.0,1385.0 500.0,1345.0 430.0,1300.0" fill="url(#bTopL)" />
<polygon points="428.0,1197.0 468.2,1191.3 483.0,1168.6 519.0,1182.8 547.6,1161.6 578.3,1160.2 588.8,1161.6 989.2,1405.4 873.8,1475.3 846.3,1561.0 676.0,1486.0 611.0,1429.2 504.6,1490.7 335.4,1388.5 357.0,1376.5 355.0,1353.2 348.6,1332.0 369.7,1302.4 371.9,1279.1 391.0,1272.8 392.0,1264.3 398.3,1228.3 408.9,1211.4" fill="none" stroke="#1b1d2a" stroke-width="1.5" stroke-linejoin="round" />
<polygon points="873.8,1475.3 989.2,1405.4 989.2,1507.0 846.3,1596.0 846.3,1561.0" fill="url(#bRFace)" stroke="#1b1d2a" stroke-width="1.5" stroke-linejoin="round" />
<polygon points="672.0,1484.0 846.3,1561.0 846.3,1596.0 672.0,1491.0" fill="url(#bRFront)" stroke="#1b1d2a" stroke-width="1.5" stroke-linejoin="round" />
<polygon points="335.4,1388.5 504.6,1490.7 504.6,1594.8 322.4,1471.8 330.6,1467.0 326.0,1452.8 337.7,1426.8 333.0,1400.0" fill="url(#bFront)" stroke="#1b1d2a" stroke-width="1.5" stroke-linejoin="round" />
<clipPath id="bHatchClip"><polygon points="504.6,1490.7 611.0,1429.2 660.0,1470.0 675.0,1486.0 675.0,1493.0 504.6,1594.8"/></clipPath>
<polygon points="504.6,1490.7 611.0,1429.2 660.0,1470.0 675.0,1486.0 675.0,1493.0 504.6,1594.8" fill="url(#bHatch)" />
<g clip-path="url(#bHatchClip)"><line x1="504" y1="1486" x2="704" y2="1296" stroke="#1b1d2a" stroke-width="1.2"/><line x1="504" y1="1512" x2="704" y2="1322" stroke="#1b1d2a" stroke-width="1.2"/><line x1="504" y1="1538" x2="704" y2="1348" stroke="#1b1d2a" stroke-width="1.2"/><line x1="504" y1="1564" x2="704" y2="1374" stroke="#1b1d2a" stroke-width="1.2"/><line x1="504" y1="1590" x2="704" y2="1400" stroke="#1b1d2a" stroke-width="1.2"/><line x1="504" y1="1616" x2="704" y2="1426" stroke="#1b1d2a" stroke-width="1.2"/><line x1="504" y1="1642" x2="704" y2="1452" stroke="#1b1d2a" stroke-width="1.2"/><line x1="504" y1="1668" x2="704" y2="1478" stroke="#1b1d2a" stroke-width="1.2"/><line x1="504" y1="1694" x2="704" y2="1504" stroke="#1b1d2a" stroke-width="1.2"/><line x1="504" y1="1720" x2="704" y2="1530" stroke="#1b1d2a" stroke-width="1.2"/></g>
<polygon points="504.6,1490.7 611.0,1429.2 660.0,1470.0 675.0,1486.0 675.0,1493.0 504.6,1594.8" fill="none" stroke="#1b1d2a" stroke-width="1.5" stroke-linejoin="round" />
<polygon points="428.0,1197.0 445.1,1205.4 489.3,1230.4 510.5,1249.0 544.4,1270.7 571.6,1292.6 615.1,1314.4 660.0,1342.0 712.0,1374.0 714.0,1380.0 700.0,1395.0 690.0,1412.0 680.0,1405.0 660.0,1390.0 641.0,1378.0 610.8,1414.0 596.9,1407.7 580.1,1397.6 563.3,1386.4 540.9,1375.2 527.4,1366.2 509.5,1349.4 484.8,1340.4 462.4,1321.4 440.0,1309.0 420.0,1296.0 404.7,1287.6 392.8,1266.4 392.0,1264.3 398.3,1228.3 408.9,1211.4" fill="#7c9dc8" stroke="#1b1d2a" stroke-width="1.3" stroke-linejoin="round" />
<polygon points="571.1,1295.0 546.5,1303.4 533.0,1315.8 527.4,1329.2 525.2,1346.0 526.0,1364.0 527.4,1366.2 540.9,1375.2 563.3,1386.4 580.1,1397.6 596.9,1407.7 610.8,1414.0 641.0,1378.0 660.0,1390.0 680.0,1405.0 690.0,1412.0 700.0,1395.0 714.0,1380.0 712.0,1374.0 660.0,1342.0 615.1,1314.4 585.7,1299.0" fill="url(#bSlag)" />
<polyline points="571.1,1295.0 546.5,1303.4 533.0,1315.8 527.4,1329.2 525.2,1346.0 526.0,1364.0" fill="none" stroke="#1b1d2a" stroke-width="1" stroke-linejoin="round" stroke-linecap="round" />
<path d="M403,1263 q-6,2 -3,9" fill="none" stroke="#1b1d2a" stroke-width="1"/>
<path d="M411,1253 q-6,2 -3,9" fill="none" stroke="#1b1d2a" stroke-width="1"/>
<path d="M421,1267 q-6,2 -3,9" fill="none" stroke="#1b1d2a" stroke-width="1"/>
<path d="M431,1280 q-6,2 -3,9" fill="none" stroke="#1b1d2a" stroke-width="1"/>
<path d="M441,1273 q-6,2 -3,9" fill="none" stroke="#1b1d2a" stroke-width="1"/>
<path d="M451,1291 q-6,2 -3,9" fill="none" stroke="#1b1d2a" stroke-width="1"/>
<path d="M461,1285 q-6,2 -3,9" fill="none" stroke="#1b1d2a" stroke-width="1"/>
<path d="M473,1300 q-6,2 -3,9" fill="none" stroke="#1b1d2a" stroke-width="1"/>
<path d="M485,1295 q-6,2 -3,9" fill="none" stroke="#1b1d2a" stroke-width="1"/>
<path d="M497,1313 q-6,2 -3,9" fill="none" stroke="#1b1d2a" stroke-width="1"/>
<path d="M508,1325 q-6,2 -3,9" fill="none" stroke="#1b1d2a" stroke-width="1"/>
<path d="M518,1320 q-6,2 -3,9" fill="none" stroke="#1b1d2a" stroke-width="1"/>
<path d="M511,1337 q-6,2 -3,9" fill="none" stroke="#1b1d2a" stroke-width="1"/>
<path d="M465,1213 q-6,2 -3,9" fill="none" stroke="#1b1d2a" stroke-width="1"/>
<path d="M483,1220 q-6,2 -3,9" fill="none" stroke="#1b1d2a" stroke-width="1"/>
<path d="M515,1240 q-6,2 -3,9" fill="none" stroke="#1b1d2a" stroke-width="1"/>
<path d="M533,1251 q-6,2 -3,9" fill="none" stroke="#1b1d2a" stroke-width="1"/>
<path d="M551,1270 q-6,2 -3,9" fill="none" stroke="#1b1d2a" stroke-width="1"/>
<path d="M568,1285 q-6,2 -3,9" fill="none" stroke="#1b1d2a" stroke-width="1"/>
<polyline points="526.0,1364.0 527.4,1366.2 540.9,1375.2 563.3,1386.4 580.1,1397.6 596.9,1407.7 610.8,1414.0" fill="none" stroke="#1b1d2a" stroke-width="1.2" stroke-linejoin="round" stroke-linecap="round" />
<polyline points="571.1,1295.0 585.7,1299.0 615.1,1314.4 660.0,1342.0 712.0,1374.0" fill="none" stroke="#1b1d2a" stroke-width="1.2" stroke-linejoin="round" stroke-linecap="round" />
<path d="M568.0,1294.3 Q512.0,1327.7 534.0,1369.1" fill="none" stroke="#1b1d2a" stroke-width="0.9"/>
<path d="M579.5,1300.8 Q524.3,1334.2 545.5,1375.7" fill="none" stroke="#1b1d2a" stroke-width="0.9"/>
<path d="M591.0,1307.2 Q536.6,1340.8 557.0,1382.4" fill="none" stroke="#1b1d2a" stroke-width="0.9"/>
<path d="M602.5,1313.6 Q548.9,1347.4 568.5,1389.1" fill="none" stroke="#1b1d2a" stroke-width="0.9"/>
<path d="M614.0,1320.1 Q561.2,1353.9 580.0,1395.7" fill="none" stroke="#1b1d2a" stroke-width="0.9"/>
<path d="M625.5,1326.5 Q573.5,1360.5 591.5,1402.4" fill="none" stroke="#1b1d2a" stroke-width="0.9"/>
<path d="M637.0,1333.0 Q585.8,1367.0 603.0,1409.1" fill="none" stroke="#1b1d2a" stroke-width="0.9"/>
<path d="M648.5,1339.4 Q598.1,1373.6 614.5,1415.8" fill="none" stroke="#1b1d2a" stroke-width="0.9"/>
<path d="M660.0,1345.8 Q610.4,1380.1 626.0,1422.4" fill="none" stroke="#1b1d2a" stroke-width="0.9"/>
<path d="M671.5,1352.3 Q622.7,1386.7 637.5,1429.1" fill="none" stroke="#1b1d2a" stroke-width="0.9"/>
<path d="M683.0,1358.7 Q635.0,1393.2 649.0,1435.8" fill="none" stroke="#1b1d2a" stroke-width="0.9"/>
<path d="M694.5,1365.2 Q647.3,1399.8 660.5,1442.4" fill="none" stroke="#1b1d2a" stroke-width="0.9"/>
<path d="M560,1300 Q536,1318 540,1368" fill="none" stroke="#1b1d2a" stroke-width="0.9"/>
<path d="M595,1318 Q580,1322 590,1335 Q620,1352 660,1372" fill="none" stroke="#1b1d2a" stroke-width="0.9"/>
<path d="M610,1322 Q640,1330 690,1360" fill="none" stroke="#1b1d2a" stroke-width="0.9"/>
<path d="M630,1335 Q650,1338 700,1372" fill="none" stroke="#1b1d2a" stroke-width="0.9"/>
<path d="M659.6,1389.0 C660.8,1391.8 672.3,1403.9 677.4,1412.0 C682.5,1420.1 686.3,1429.6 690.4,1437.7 C694.5,1445.8 698.5,1453.9 701.7,1460.4 C704.9,1466.9 708.2,1472.1 709.8,1476.6 C711.4,1481.0 708.4,1483.1 711.4,1487.1 C714.4,1491.1 720.9,1497.2 727.6,1500.8 C734.4,1504.4 742.5,1507.1 751.9,1508.9 C761.3,1510.7 773.0,1511.4 784.3,1511.4 C795.6,1511.4 811.9,1510.9 819.9,1508.9 C827.9,1506.9 829.9,1507.8 832.0,1499.2 C834.1,1490.6 833.7,1466.3 832.8,1457.1 C831.9,1447.9 831.8,1448.5 826.4,1444.2 C821.0,1439.9 810.2,1436.3 800.5,1431.2 C790.8,1426.1 778.2,1418.6 768.1,1413.4 C758.0,1408.2 751.4,1402.2 740.0,1400.0 C728.6,1397.8 709.9,1399.1 700.0,1400.0 C690.1,1400.9 685.7,1406.1 680.7,1405.3 C675.7,1404.5 673.5,1397.7 670.0,1395.0 C666.5,1392.3 658.4,1386.2 659.6,1389.0 Z" fill="#f7c11d" stroke="#1b1d2a" stroke-width="1"/>
<path d="M680.7,1405.3 C680.7,1411.1 694.1,1423.6 700.0,1432.8 C705.9,1442.0 710.9,1452.0 716.3,1460.4 C721.7,1468.8 726.6,1477.1 732.5,1483.0 C738.4,1488.9 743.3,1492.8 751.9,1496.0 C760.5,1499.2 773.0,1501.7 784.3,1502.5 C795.6,1503.3 812.6,1502.7 819.9,1500.8 C827.2,1498.9 826.6,1500.2 828.0,1491.0 C829.4,1481.8 832.6,1455.8 828.0,1445.8 C823.4,1435.8 810.5,1436.6 800.5,1431.2 C790.5,1425.8 778.2,1418.3 768.1,1413.4 C758.0,1408.5 751.4,1404.6 740.0,1402.0 C728.6,1399.4 709.9,1397.5 700.0,1398.0 C690.1,1398.5 680.7,1399.5 680.7,1405.3 Z" fill="#f39a2c" stroke="#1b1d2a" stroke-width="1"/>
<path d="M713.0,1377.8 C706.5,1380.5 703.8,1389.9 700.0,1395.6 C696.2,1401.3 691.2,1407.4 690.4,1411.8 C689.6,1416.2 692.9,1419.3 695.0,1422.0 C697.1,1424.7 699.2,1424.3 703.3,1428.0 C707.4,1431.7 712.8,1441.5 719.5,1444.2 C726.2,1446.9 737.0,1446.9 743.8,1444.2 C750.5,1441.5 757.9,1433.1 760.0,1428.0 C762.1,1422.9 758.6,1418.0 756.7,1413.4 C754.8,1408.8 751.6,1406.2 748.6,1400.5 C745.6,1394.8 744.9,1383.2 739.0,1379.4 C733.1,1375.6 719.5,1375.1 713.0,1377.8 Z" fill="#f5b63c"/>
<path d="M713.0,1380 Q704.4,1398.0 693.3,1415.9" fill="none" stroke="#1b1d2a" stroke-width="0.9"/>
<path d="M714.7,1380 Q704.6,1400.7 696.6,1421.4" fill="none" stroke="#1b1d2a" stroke-width="0.9"/>
<path d="M716.4,1380 Q704.9,1402.2 700.8,1424.4" fill="none" stroke="#1b1d2a" stroke-width="0.9"/>
<path d="M718.1,1380 Q709.0,1402.5 706.5,1425.0" fill="none" stroke="#1b1d2a" stroke-width="0.9"/>
<path d="M719.8,1380 Q712.3,1406.4 710.8,1432.8" fill="none" stroke="#1b1d2a" stroke-width="0.9"/>
<path d="M721.5,1380 Q721.4,1407.4 714.2,1434.8" fill="none" stroke="#1b1d2a" stroke-width="0.9"/>
<path d="M723.2,1380 Q725.4,1408.3 719.9,1436.6" fill="none" stroke="#1b1d2a" stroke-width="0.9"/>
<path d="M724.9,1380 Q721.8,1411.3 722.1,1442.6" fill="none" stroke="#1b1d2a" stroke-width="0.9"/>
<path d="M726.6,1380 Q725.1,1409.1 726.7,1438.1" fill="none" stroke="#1b1d2a" stroke-width="0.9"/>
<path d="M728.3,1380 Q731.6,1407.6 733.7,1435.3" fill="none" stroke="#1b1d2a" stroke-width="0.9"/>
<path d="M730.0,1380 Q734.0,1406.6 737.2,1433.2" fill="none" stroke="#1b1d2a" stroke-width="0.9"/>
<path d="M731.7,1380 Q733.1,1404.1 739.2,1428.2" fill="none" stroke="#1b1d2a" stroke-width="0.9"/>
<path d="M733.4,1380 Q738.2,1403.6 745.9,1427.2" fill="none" stroke="#1b1d2a" stroke-width="0.9"/>
<path d="M735.1,1380 Q740.9,1402.1 749.8,1424.1" fill="none" stroke="#1b1d2a" stroke-width="0.9"/>
<path d="M736.8,1380 Q743.8,1401.2 754.9,1422.4" fill="none" stroke="#1b1d2a" stroke-width="0.9"/>
<path d="M738.5,1380 Q751.4,1399.1 758.3,1418.2" fill="none" stroke="#1b1d2a" stroke-width="0.9"/>
<polyline points="830.0,1450.0 873.8,1475.3" fill="none" stroke="#1b1d2a" stroke-width="1.1" stroke-linejoin="round" stroke-linecap="round" />
<path d="M640.2,1377.0 C634.0,1375.9 627.0,1382.0 622.4,1385.9 C617.8,1389.8 614.9,1395.4 612.7,1400.5 C610.5,1405.6 609.7,1411.3 609.4,1416.7 C609.1,1422.1 609.6,1427.2 611.0,1432.9 C612.4,1438.6 614.2,1445.1 617.5,1450.7 C620.8,1456.3 625.1,1462.0 630.5,1466.8 C635.9,1471.6 642.6,1476.7 649.9,1479.8 C657.2,1482.9 664.0,1484.3 674.2,1485.5 C684.5,1486.7 705.5,1488.6 711.4,1487.1 C717.3,1485.6 711.4,1481.0 709.8,1476.6 C708.2,1472.1 704.9,1466.9 701.7,1460.4 C698.5,1453.9 694.5,1445.3 690.4,1437.7 C686.3,1430.1 682.5,1422.5 677.4,1415.0 C672.3,1407.5 665.8,1398.7 659.6,1392.4 C653.4,1386.1 646.4,1378.1 640.2,1377.0 Z" fill="#e8202a" stroke="#1b1d2a" stroke-width="1"/>
<line x1="615.9" y1="1425.6" x2="711.4" y2="1483" stroke="#1b1d2a" stroke-width="1.3" stroke-dasharray="9,6"/>
<line x1="675" y1="1468.5" x2="675" y2="1485.5" stroke="#1b1d2a" stroke-width="1"/>
<g fill="none" stroke="#1b1d2a" stroke-width="1.1"><path d="M659.7,1263.3 A12.0,12.0 0 0 1 674.4,1254.8"/><path d="M656.2,1262.4 A15.6,15.6 0 0 1 675.3,1251.3"/><path d="M652.8,1261.4 A19.2,19.2 0 0 1 676.3,1247.9"/><path d="M689.6,1267.8 A12.0,12.0 0 0 1 704.3,1259.3"/><path d="M686.1,1266.9 A15.6,15.6 0 0 1 705.2,1255.8"/><path d="M682.7,1265.9 A19.2,19.2 0 0 1 706.2,1252.4"/><path d="M626.8,1287.3 A12.0,12.0 0 0 1 641.5,1278.8"/><path d="M623.3,1286.4 A15.6,15.6 0 0 1 642.4,1275.3"/><path d="M619.9,1285.4 A19.2,19.2 0 0 1 643.4,1271.9"/><path d="M647.7,1290.2 A12.0,12.0 0 0 1 662.4,1281.7"/><path d="M644.2,1289.3 A15.6,15.6 0 0 1 663.3,1278.2"/><path d="M640.8,1288.3 A19.2,19.2 0 0 1 664.3,1274.8"/><path d="M626.8,1306.7 A12.0,12.0 0 0 1 641.5,1298.2"/><path d="M623.3,1305.8 A15.6,15.6 0 0 1 642.4,1294.7"/><path d="M619.9,1304.8 A19.2,19.2 0 0 1 643.4,1291.3"/><path d="M682.1,1294.7 A12.0,12.0 0 0 1 696.8,1286.2"/><path d="M678.6,1293.8 A15.6,15.6 0 0 1 697.7,1282.7"/><path d="M675.2,1292.8 A19.2,19.2 0 0 1 698.7,1279.3"/><path d="M664.2,1302.2 A12.0,12.0 0 0 1 678.9,1293.7"/><path d="M660.7,1301.3 A15.6,15.6 0 0 1 679.8,1290.2"/><path d="M657.3,1300.3 A19.2,19.2 0 0 1 680.8,1286.8"/><path d="M652.2,1318.6 A12.0,12.0 0 0 1 666.9,1310.1"/><path d="M648.7,1317.7 A15.6,15.6 0 0 1 667.8,1306.6"/><path d="M645.3,1316.7 A19.2,19.2 0 0 1 668.8,1303.2"/><path d="M692.6,1323.1 A12.0,12.0 0 0 1 707.3,1314.6"/><path d="M689.1,1322.2 A15.6,15.6 0 0 1 708.2,1311.1"/><path d="M685.7,1321.2 A19.2,19.2 0 0 1 709.2,1307.7"/><path d="M656.7,1338.1 A12.0,12.0 0 0 1 671.4,1329.6"/><path d="M653.2,1337.2 A15.6,15.6 0 0 1 672.3,1326.1"/><path d="M649.8,1336.2 A19.2,19.2 0 0 1 673.3,1322.7"/><path d="M688.1,1350.0 A12.0,12.0 0 0 1 702.8,1341.5"/><path d="M684.6,1349.1 A15.6,15.6 0 0 1 703.7,1338.0"/><path d="M681.2,1348.1 A19.2,19.2 0 0 1 704.7,1334.6"/><path d="M759.3,1298.2 A12.0,12.0 0 0 1 774.0,1306.7"/><path d="M758.4,1294.7 A15.6,15.6 0 0 1 777.5,1305.8"/><path d="M757.4,1291.3 A19.2,19.2 0 0 1 780.9,1304.8"/><path d="M786.2,1295.2 A12.0,12.0 0 0 1 800.9,1303.7"/><path d="M785.3,1291.7 A15.6,15.6 0 0 1 804.4,1302.8"/><path d="M784.3,1288.3 A19.2,19.2 0 0 1 807.8,1301.8"/><path d="M759.3,1323.6 A12.0,12.0 0 0 1 774.0,1332.1"/><path d="M758.4,1320.1 A15.6,15.6 0 0 1 777.5,1331.2"/><path d="M757.4,1316.7 A19.2,19.2 0 0 1 780.9,1330.2"/><path d="M795.2,1322.1 A12.0,12.0 0 0 1 809.9,1330.6"/><path d="M794.3,1318.6 A15.6,15.6 0 0 1 813.4,1329.7"/><path d="M793.3,1315.2 A19.2,19.2 0 0 1 816.8,1328.7"/><path d="M820.6,1323.6 A12.0,12.0 0 0 1 835.3,1332.1"/><path d="M819.7,1320.1 A15.6,15.6 0 0 1 838.8,1331.2"/><path d="M818.7,1316.7 A19.2,19.2 0 0 1 842.2,1330.2"/><path d="M780.3,1334.1 A12.0,12.0 0 0 1 795.0,1342.6"/><path d="M779.4,1330.6 A15.6,15.6 0 0 1 798.5,1341.7"/><path d="M778.4,1327.2 A19.2,19.2 0 0 1 801.9,1340.7"/><path d="M813.2,1340.0 A12.0,12.0 0 0 1 827.9,1348.5"/><path d="M812.3,1336.5 A15.6,15.6 0 0 1 831.4,1347.6"/><path d="M811.3,1333.1 A19.2,19.2 0 0 1 834.8,1346.6"/><path d="M748.9,1350.5 A12.0,12.0 0 0 1 763.6,1359.0"/><path d="M748.0,1347.0 A15.6,15.6 0 0 1 767.1,1358.1"/><path d="M747.0,1343.6 A19.2,19.2 0 0 1 770.5,1357.1"/><path d="M787.7,1349.0 A12.0,12.0 0 0 1 802.4,1357.5"/><path d="M786.8,1345.5 A15.6,15.6 0 0 1 805.9,1356.6"/><path d="M785.8,1342.1 A19.2,19.2 0 0 1 809.3,1355.6"/><path d="M750.4,1378.9 A12.0,12.0 0 0 1 765.1,1387.4"/><path d="M749.5,1375.4 A15.6,15.6 0 0 1 768.6,1386.5"/><path d="M748.5,1372.0 A19.2,19.2 0 0 1 772.0,1385.5"/><path d="M783.3,1369.9 A12.0,12.0 0 0 1 798.0,1378.4"/><path d="M782.4,1366.4 A15.6,15.6 0 0 1 801.5,1377.5"/><path d="M781.4,1363.0 A19.2,19.2 0 0 1 804.9,1376.5"/><path d="M810.2,1384.9 A12.0,12.0 0 0 1 824.9,1393.4"/><path d="M809.3,1381.4 A15.6,15.6 0 0 1 828.4,1392.5"/><path d="M808.3,1378.0 A19.2,19.2 0 0 1 831.8,1391.5"/><path d="M772.8,1402.8 A12.0,12.0 0 0 1 787.5,1411.3"/><path d="M771.9,1399.3 A15.6,15.6 0 0 1 791.0,1410.4"/><path d="M770.9,1395.9 A19.2,19.2 0 0 1 794.4,1409.4"/></g>
<path d="M668.4,968.5 L668.4,1067.5 L684.1,1167.6 A41.5,12 0 0 0 767,1167.6 L782.7,1067.5 L782.7,968.5 Z" fill="url(#bIns)" stroke="#1b1d2a" stroke-width="1.4"/>
<path d="M668.4,1067.5 A57.2,18 0 0 0 782.7,1067.5" fill="none" stroke="#1b1d2a" stroke-width="1.2"/>
<ellipse cx="725.5" cy="968.5" rx="57.2" ry="25.8" fill="url(#bInsTop)" stroke="#1b1d2a" stroke-width="1.4"/>
<path d="M700.5,1176 L700.5,1215.4 A24.6,4 0 0 0 749.8,1215.4 L749.8,1176 A24.6,4 0 0 1 700.5,1176 Z" fill="url(#bTube)" stroke="#1b1d2a" stroke-width="1.2"/>
<rect x="711" y="1219" width="29" height="159" fill="url(#bEl)" stroke="#1b1d2a" stroke-width="1.2"/>
<rect x="720.5" y="1220" width="12" height="157" fill="url(#dotsB)"/>
<polyline points="850.5,1016.4 839.5,1016.4 787.6,1049.7" fill="none" stroke="#231f20" stroke-width="1.2" stroke-linejoin="round" stroke-linecap="round" /><polygon points="779.7,1054.8 788.4,1044.2 787.6,1049.7 792.9,1051.3" fill="#231f20" />
<polyline points="426.5,1084.4 447.5,1084.4 590.4,1321.9" fill="none" stroke="#231f20" stroke-width="1.2" stroke-linejoin="round" stroke-linecap="round" /><polygon points="595.2,1329.9 584.9,1320.9 590.4,1321.9 592.1,1316.6" fill="#231f20" />
<polyline points="973.8,1080.8 941.3,1080.8 758.5,1197.7" fill="none" stroke="#231f20" stroke-width="1.2" stroke-linejoin="round" stroke-linecap="round" /><polygon points="750.6,1202.7 759.3,1192.2 758.5,1197.7 763.8,1199.2" fill="#231f20" />
<polyline points="375.3,1142.9 406.4,1142.9 472.1,1263.5" fill="none" stroke="#231f20" stroke-width="1.2" stroke-linejoin="round" stroke-linecap="round" /><polygon points="476.6,1271.7 466.7,1262.3 472.1,1263.5 474.1,1258.3" fill="#231f20" />
<polyline points="900.2,1144.8 881.4,1144.8 745.4,1294.6" fill="none" stroke="#231f20" stroke-width="1.2" stroke-linejoin="round" stroke-linecap="round" /><polygon points="739.1,1301.5 744.7,1289.1 745.4,1294.6 750.9,1294.7" fill="#231f20" />
<polyline points="920.7,1243.5 853.4,1243.5 737.0,1353.8" fill="none" stroke="#231f20" stroke-width="1.2" stroke-linejoin="round" stroke-linecap="round" /><polygon points="730.2,1360.2 736.7,1348.2 737.0,1353.8 742.5,1354.3" fill="#231f20" />
<polyline points="1000.7,1311.5 984.6,1311.5 813.3,1349.3" fill="none" stroke="#231f20" stroke-width="1.2" stroke-linejoin="round" stroke-linecap="round" /><polygon points="804.2,1351.3 816.0,1344.4 813.3,1349.3 817.8,1352.6" fill="#231f20" />
<polyline points="535.3,1410.2 625.3,1410.2 648.0,1424.3" fill="none" stroke="#231f20" stroke-width="1.2" stroke-linejoin="round" stroke-linecap="round" /><polygon points="656.0,1429.2 642.7,1425.9 648.0,1424.3 647.2,1418.8" fill="#231f20" />
<polyline points="1041.1,1490.3 1008.1,1490.3 759.6,1415.2" fill="none" stroke="#231f20" stroke-width="1.2" stroke-linejoin="round" stroke-linecap="round" /><polygon points="750.6,1412.5 764.3,1412.2 759.6,1415.2 761.8,1420.3" fill="#231f20" />
<polyline points="1019.9,1569.3 979.5,1569.3 828.2,1505.5" fill="none" stroke="#231f20" stroke-width="1.2" stroke-linejoin="round" stroke-linecap="round" /><polygon points="819.6,1501.9 833.2,1503.1 828.2,1505.5 829.9,1510.8" fill="#231f20" />
<polyline points="395.4,1568.4 436.7,1568.4 568.5,1495.2" fill="none" stroke="#231f20" stroke-width="1.2" stroke-linejoin="round" stroke-linecap="round" /><polygon points="576.7,1490.7 567.4,1500.7 568.5,1495.2 563.3,1493.3" fill="#231f20" />
</g>
<g font-family="Liberation Sans, sans-serif" fill="#231f20"><text x="920.5" y="170.0" font-size="22" textLength="139.5" lengthAdjust="spacingAndGlyphs">GAS NOZZLE</text>
<text x="423" y="198.4" font-size="22" textLength="187.5" lengthAdjust="spacingAndGlyphs">WIRE GUIDE AND</text>
<text x="423" y="225.6" font-size="22" textLength="168.5" lengthAdjust="spacingAndGlyphs">CONTACT TUBE</text>
<text x="324.2" y="290.0" font-size="22" textLength="153.5" lengthAdjust="spacingAndGlyphs">MOLTEN SLAG</text>
<text x="524.6" y="286.0" font-size="22" textLength="119.2" lengthAdjust="spacingAndGlyphs">SHIELDING</text>
<text x="524.6" y="313.6" font-size="22" textLength="46.5" lengthAdjust="spacingAndGlyphs">GAS</text>
<text x="300" y="378.7" font-size="22" textLength="57.2" lengthAdjust="spacingAndGlyphs">SLAG</text>
<text x="969.7" y="346.8" font-size="22" textLength="245.5" lengthAdjust="spacingAndGlyphs">FLUX-FILLED TUBULAR</text>
<text x="969.7" y="374.6" font-size="22" textLength="198.5" lengthAdjust="spacingAndGlyphs">WIRE ELECTRODE</text>
<text x="995.7" y="448.4" font-size="22" textLength="322.5" lengthAdjust="spacingAndGlyphs">POWDERED METAL FLUX AND</text>
<text x="995.7" y="475.3" font-size="22" textLength="298.5" lengthAdjust="spacingAndGlyphs">SLAG-FORMING MATERIALS</text>
<text x="414" y="590.7" font-size="22" textLength="141" lengthAdjust="spacingAndGlyphs">WELD METAL</text>
<text x="1100.3" y="614.7" font-size="22" textLength="176.8" lengthAdjust="spacingAndGlyphs">ARC AND METAL</text>
<text x="1100.3" y="642.5" font-size="22" textLength="118.8" lengthAdjust="spacingAndGlyphs">TRANSFER</text>
<text x="1035.5" y="800.6" font-size="22" textLength="87" lengthAdjust="spacingAndGlyphs">MOLTEN</text>
<text x="1035.5" y="828.4" font-size="22" textLength="129.6" lengthAdjust="spacingAndGlyphs">WELD POOL</text>
<text x="530.7" y="841.6" font-size="22" textLength="133.8" lengthAdjust="spacingAndGlyphs">BASE METAL</text>
<text x="469.5" y="900.7" font-size="22" textLength="620" lengthAdjust="spacingAndGlyphs">(A) GAS-SHIELDED FLUX CORED ARC WELDING (FCAW-G)</text>
<text x="855.4" y="1025.3" font-size="22" textLength="122.7" lengthAdjust="spacingAndGlyphs">INSULATOR</text>
<text x="266.2" y="1092.0" font-size="22" textLength="152.5" lengthAdjust="spacingAndGlyphs">MOLTEN SLAG</text>
<text x="980.4" y="1089.3" font-size="22" textLength="167.5" lengthAdjust="spacingAndGlyphs">CONTACT TUBE</text>
<text x="307.7" y="1151.6" font-size="22" textLength="56.8" lengthAdjust="spacingAndGlyphs">SLAG</text>
<text x="910.9" y="1152.7" font-size="22" textLength="451.7" lengthAdjust="spacingAndGlyphs">FLUX-FILLED TUBULAR WIRE ELECTRODE</text>
<text x="924.4" y="1248.6" font-size="22" textLength="322.6" lengthAdjust="spacingAndGlyphs">POWDERED METAL FLUX AND</text>
<text x="924.4" y="1276.2" font-size="22" textLength="299" lengthAdjust="spacingAndGlyphs">SLAG-FORMING MATERIALS</text>
<text x="1009.5" y="1320.9" font-size="22" textLength="343.4" lengthAdjust="spacingAndGlyphs">ARC SHIELDING COMPOSED OF</text>
<text x="1009.5" y="1348.4" font-size="22" textLength="277.8" lengthAdjust="spacingAndGlyphs">VAPORIZED COMPOUNDS</text>
<text x="393.6" y="1417.4" font-size="22" textLength="140.6" lengthAdjust="spacingAndGlyphs">WELD METAL</text>
<text x="1047.5" y="1497.7" font-size="22" textLength="301" lengthAdjust="spacingAndGlyphs">ARC AND METAL TRANSFER</text>
<text x="257.2" y="1577.8" font-size="22" textLength="134.8" lengthAdjust="spacingAndGlyphs">BASE METAL</text>
<text x="1032" y="1575.3" font-size="22" textLength="225.1" lengthAdjust="spacingAndGlyphs">MOLTEN WELD POOL</text>
<text x="428" y="1670.5" font-size="22" textLength="626.8" lengthAdjust="spacingAndGlyphs">(B) SELF-SHIELDED FLUX CORED ARC WELDING (FCAW-S)</text></g>
<g fill="#231f20" font-family="Liberation Sans, sans-serif">
<text x="851.5" y="94.7" font-size="22.4" font-style="italic" textLength="558.5" lengthAdjust="spacingAndGlyphs">Flux Cored Arc Welding Equipment, Setup, and Operation</text>
<text x="1469.5" y="94.7" font-size="22.4" font-weight="bold" textLength="38.5" lengthAdjust="spacingAndGlyphs">115</text>
<text x="110.3" y="1717.1" font-size="25" font-weight="bold" textLength="118.6" lengthAdjust="spacingAndGlyphs">Figure 3.1</text>
<text x="241.8" y="1717.1" font-size="21.7" font-weight="bold" textLength="380.6" lengthAdjust="spacingAndGlyphs">Two types of flux cored arc welding</text>
<text x="110.3" y="1744.6" font-size="20.2" textLength="991.2" lengthAdjust="spacing">FCA welding may have extra shielding provided by a gas nozzle (A), or be self-shielding only (B).</text>
<text x="110.3" y="1769.6" font-size="17" textLength="391.5" lengthAdjust="spacing">Source: Courtesy of the American Welding Society</text>
</g>
</svg>
<div class="bl" style="left:152.3px;top:1845.93px;width:817.43px;text-align-last:justify;">A discussion of weld metal additives and flux elements and their</div>
<div class="bl" style="left:110.6px;top:1881.88px;width:630.71px;text-align-last:left;">effects on the weld can be found later in this chapter.</div>
<div class="bl" style="left:152.3px;top:1917.83px;width:817.43px;text-align-last:justify;">The flux core additives that serve as deoxidizers, gas formers, and slag</div>
<div class="bl" style="left:110.6px;top:1953.78px;width:854.34px;text-align-last:justify;">formers either protect the molten weld pool or help to remove impurities</div>
<div class="bl" style="left:110.6px;top:1989.73px;width:854.34px;text-align-last:justify;">from the base metal. Deoxidizers may convert small amounts of surface</div>
<svg width="1606" height="2175" style="position:absolute;left:0;top:0">
<defs>
<clipPath id="wmTop"><rect x="0" y="1900" width="1606" height="158"/></clipPath>
<clipPath id="wmBot"><rect x="0" y="2058" width="1606" height="117"/></clipPath>
<mask id="wmRing" maskUnits="userSpaceOnUse" x="0" y="1900" width="1606" height="275">
<rect x="0" y="1900" width="1606" height="275" fill="black"/>
<text x="252" y="2112" font-family="Liberation Serif, serif" font-weight="bold" font-size="173.5" textLength="1326" lengthAdjust="spacingAndGlyphs" fill="white" stroke="white" stroke-width="12.5" stroke-linejoin="round">SEATRACKER.RU</text>
<text x="252" y="2112" font-family="Liberation Serif, serif" font-weight="bold" font-size="173.5" textLength="1326" lengthAdjust="spacingAndGlyphs" fill="black" stroke="black" stroke-width="5.5" stroke-linejoin="round">SEATRACKER.RU</text>
</mask>
</defs>
<g opacity="0.635" fill="rgb(16,118,173)">
<path d="M117.5,1942.5 L128.1,1988.3 L151.8,1947.9 L148.6,1994.8 L180.6,1968.9 L167.1,2008.1 L213.3,1990.0 L180.3,2026.5 L232.0,2021.8 L186.7,2047.2 L234.3,2058.4 L186.7,2068.1 L232.7,2092.7 L180.5,2088.0 L216.4,2126.1 L168.1,2105.8 L188.4,2150.3 L150.8,2119.1 L156.4,2168.2 L129.3,2126.5 L117.5,2172.8 L106.5,2126.6 L81.7,2167.4 L84.7,2119.4 L45.1,2151.0 L66.7,2105.6 L20.2,2124.6 L54.4,2087.9 L1.6,2092.7 L48.2,2067.3 L0.0,2056.0 L48.4,2046.6 L2.3,2021.8 L54.6,2026.8 L17.9,1988.4 L66.9,2009.1 L45.9,1963.5 L84.1,1996.0 L77.8,1947.1 L105.5,1988.5 Z M54.0,2057.5 A63.5,63.5 0 0 1 181.0,2057.5 Z" fill-rule="evenodd"/>
<rect x="0" y="1900" width="1606" height="158" mask="url(#wmRing)"/>
<text x="252" y="2112" font-family="Liberation Serif, serif" font-weight="bold" font-size="173.5" textLength="1326" lengthAdjust="spacingAndGlyphs" clip-path="url(#wmBot)" fill="rgb(16,118,173)" stroke="rgb(16,118,173)" stroke-width="12.5" stroke-linejoin="round">SEATRACKER.RU</text>
</g>
</svg>
</body></html>
